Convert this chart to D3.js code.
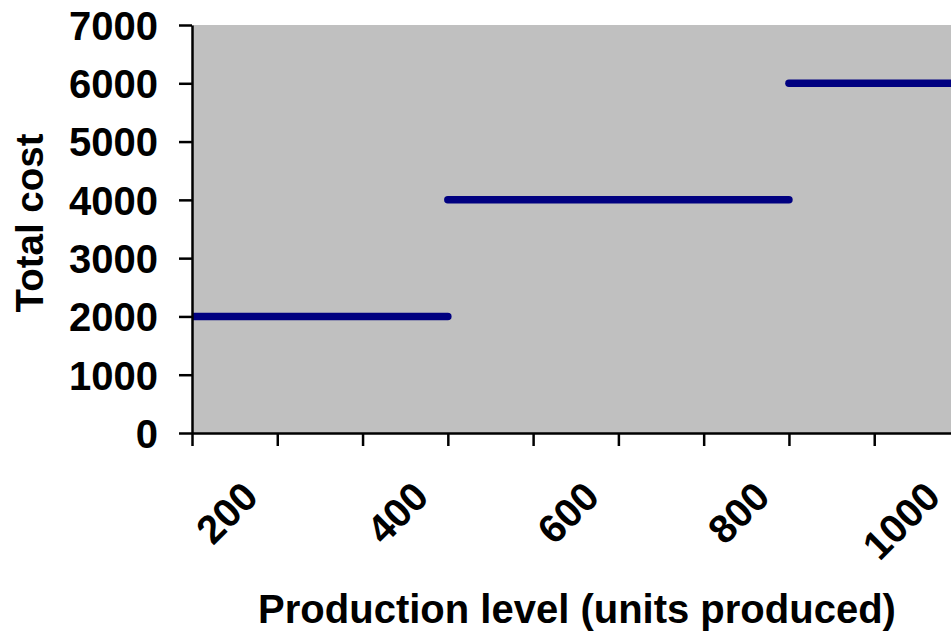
<!DOCTYPE html>
<html>
<head>
<meta charset="utf-8">
<script src="https://cdn.jsdelivr.net/npm/d3@7"></script>
<style>
  html, body { margin: 0; padding: 0; background: #ffffff; }
  svg { display: block; }
  text { font-family: Arial, "Liberation Sans", sans-serif; font-weight: bold; fill: #000; }
</style>
</head>
<body>
<svg id="chart" width="951" height="632"></svg>
<script>
// Production levels (units) at which the cost tiers are plotted
const production = [100, 200, 300, 400, 500, 600, 700, 800, 900, 1000];
// Step-cost tiers: each tier is a separate flat series
const costTier1 = [2000, 2000, 2000, 2000, null, null, null, null, null, null];
const costTier2 = [null, null, null, 4000, 4000, 4000, 4000, 4000, null, null];
const costTier3 = [null, null, null, null, null, null, null, 6000, 6000, 6000];
// Axis ticks
const yTicks = [0, 1000, 2000, 3000, 4000, 5000, 6000, 7000];
const xTicks = [100, 200, 300, 400, 500, 600, 700, 800, 900, 1000];
const xTickLabels = [200, 400, 600, 800, 1000];

const svg = d3.select("#chart");
const plotLeft = 192, plotRight = 959.5, plotTop = 25, plotBottom = 433;

const x = d3.scaleLinear().domain([100, 1000]).range([plotLeft, plotRight]);
const y = d3.scaleLinear().domain([0, 7000]).range([plotBottom, plotTop]);

// plot area
svg.append("rect")
  .attr("x", plotLeft).attr("y", plotTop)
  .attr("width", plotRight - plotLeft).attr("height", plotBottom - plotTop)
  .attr("fill", "#c0c0c0");

svg.append("clipPath").attr("id", "plotClip")
  .append("rect")
  .attr("x", plotLeft).attr("y", plotTop - 10)
  .attr("width", plotRight - plotLeft + 20).attr("height", plotBottom - plotTop + 20);

// cost tiers
const line = d3.line()
  .defined(d => d[1] != null)
  .x(d => x(d[0]))
  .y(d => y(d[1]));

const series = [costTier1, costTier2, costTier3];
svg.append("g").attr("clip-path", "url(#plotClip)")
  .selectAll("path")
  .data(series)
  .join("path")
  .attr("d", s => line(production.map((p, i) => [p, s[i]])))
  .attr("fill", "none")
  .attr("stroke", "#000080")
  .attr("stroke-width", 7.5)
  .attr("stroke-linecap", "round")
  .attr("stroke-linejoin", "round");

// y axis
const yAxis = svg.append("g")
  .attr("transform", `translate(${plotLeft},0)`)
  .call(d3.axisLeft(y).tickValues(yTicks).tickSize(13).tickSizeOuter(0).tickFormat(d3.format("d")));
yAxis.select(".domain").attr("stroke", "#000").attr("stroke-width", 2.5);
yAxis.selectAll(".tick line").attr("stroke", "#000").attr("stroke-width", 2.5);
yAxis.selectAll(".tick text")
  .attr("x", -34)
  .attr("dy", "0.36em")
  .style("font-size", "40px")
  .style("font-family", "Arial, 'Liberation Sans', sans-serif")
  .style("font-weight", "bold");

// x axis
const xAxis = svg.append("g")
  .attr("transform", `translate(0,${plotBottom})`)
  .call(d3.axisBottom(x).tickValues(xTicks).tickSize(13).tickSizeOuter(0).tickFormat(""));
xAxis.select(".domain").attr("stroke", "#000").attr("stroke-width", 2.5);
xAxis.selectAll(".tick line").attr("stroke", "#000").attr("stroke-width", 2.5);

// rotated category labels
svg.append("g")
  .selectAll("text")
  .data(xTickLabels)
  .join("text")
  .attr("text-anchor", "end")
  .attr("transform", d => `translate(${x(d) - 17},${plotBottom + 66}) rotate(-45)`)
  .style("font-size", "40px")
  .text(d => d);

// axis titles
svg.append("text")
  .attr("text-anchor", "middle")
  .attr("transform", `translate(43,223) rotate(-90)`)
  .style("font-size", "38.5px")
  .text("Total cost");

svg.append("text")
  .attr("x", 577)
  .attr("y", 623)
  .attr("text-anchor", "middle")
  .style("font-size", "40px")
  .text("Production level (units produced)");
</script>
</body>
</html>
